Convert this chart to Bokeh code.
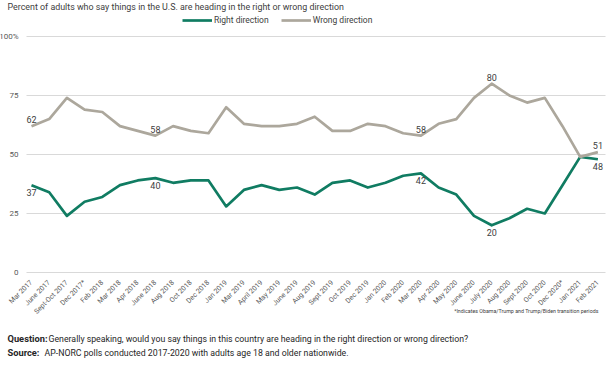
from math import pi
from bokeh.plotting import figure
from bokeh.models import Range1d, Label, Legend, LegendItem, ColumnDataSource, FixedTicker
from bokeh.core.properties import value
from bokeh.embed import file_html
from bokeh.resources import INLINE

months = ["Mar 2017", "June 2017", "Sept-Oct 2017", "Dec 2017*", "Feb 2018", "Mar 2018",
          "Apr 2018", "June 2018", "Aug 2018", "Oct 2018", "Dec 2018", "Jan 2019",
          "Mar 2019", "April 2019", "May 2019", "June 2019", "Aug 2019", "Sept 2019",
          "Oct 2019", "Dec 2019", "Jan 2020", "Feb 2020", "Mar 2020", "Apr 2020",
          "May 2020", "June 2020", "July 2020", "Aug 2020", "Sept 2020", "Oct 2020",
          "Dec 2020*", "Jan 2021", "Feb 2021"]
right_dir = [37, 34, 24, 30, 32, 37, 39, 40, 38, 39, 39, 28, 35, 37, 35, 36, 33, 38,
             39, 36, 38, 41, 42, 36, 33, 24, 20, 23, 27, 25, 37, 49, 48]
wrong_dir = [62, 65, 74, 69, 68, 62, 60, 58, 62, 60, 59, 70, 63, 62, 62, 63, 66, 60,
             60, 63, 62, 59, 58, 63, 65, 74, 80, 75, 72, 74, 62, 49, 51]
label_idx = [0, 7, 22, 26, 32]
y_ticks = [0, 25, 50, 75, 100]

GREEN = "#107c62"
GRAY = "#aca79c"
TXT = "#404040"
FONT = "Roboto"

idx = list(range(len(months)))
src = ColumnDataSource(dict(i=idx, month=months, right=right_dir, wrong=wrong_dir))

W, H = 612, 374
GRID_START, GRID_END = -0.28, 32.43

p = figure(width=W, height=H,
           x_range=Range1d(-1.751, 32.825),
           y_range=Range1d(-43.22, 115.25),
           output_backend="svg", toolbar_location=None,
           min_border_left=0, min_border_right=0,
           min_border_top=0, min_border_bottom=0)
p.outline_line_color = None
p.background_fill_color = "white"
p.border_fill_color = "white"
p.xgrid.grid_line_color = None
p.ygrid.grid_line_color = "#d9d9d9"
p.ygrid.grid_line_width = 1
p.ygrid.ticker = FixedTicker(ticks=y_ticks)
p.ygrid.cross_bounds = (GRID_START, GRID_END)

p.yaxis.fixed_location = GRID_START
p.yaxis.ticker = FixedTicker(ticks=y_ticks)
p.yaxis.major_label_overrides = {100: "100%"}
p.yaxis.axis_line_color = None
p.yaxis.major_tick_line_color = None
p.yaxis.minor_tick_line_color = None
p.yaxis.major_label_standoff = 2
p.yaxis.major_label_text_font = FONT
p.yaxis.major_label_text_font_size = "8px"
p.yaxis.major_label_text_color = "#595959"

p.xaxis.fixed_location = 0
p.xaxis.ticker = FixedTicker(ticks=idx)
p.xaxis.major_label_overrides = {i: m for i, m in zip(idx, months)}
p.xaxis.axis_line_color = None
p.xaxis.major_tick_line_color = None
p.xaxis.minor_tick_line_color = None
p.xaxis.major_label_orientation = pi / 4
p.xaxis.major_label_standoff = 3
p.xaxis.major_label_text_font = FONT
p.xaxis.major_label_text_font_size = "7px"
p.xaxis.major_label_text_color = "#595959"

r_right = p.line(x="i", y="right", source=src, line_color=GREEN, line_width=2.7,
                 line_join="round")
r_wrong = p.line(x="i", y="wrong", source=src, line_color=GRAY, line_width=2.7,
                 line_join="round")

above = ColumnDataSource(dict(x=label_idx,
                              y=[wrong_dir[i] for i in label_idx],
                              t=[str(wrong_dir[i]) for i in label_idx]))
below = ColumnDataSource(dict(x=label_idx,
                              y=[right_dir[i] for i in label_idx],
                              t=[str(right_dir[i]) for i in label_idx]))
p.text(x="x", y="y", text="t", source=above, text_align="center", text_baseline="bottom",
       y_offset=-3, text_font=value(FONT), text_font_size="9px", text_color=TXT)
p.text(x="x", y="y", text="t", source=below, text_align="center", text_baseline="top",
       y_offset=4, text_font=value(FONT), text_font_size="9px", text_color=TXT)

legend = Legend(items=[LegendItem(label="Right direction", renderers=[r_right]),
                       LegendItem(label="Wrong direction", renderers=[r_wrong])],
                orientation="horizontal", location=(182, 349),
                padding=0, margin=0, spacing=12, glyph_width=30, glyph_height=10,
                label_height=10, label_standoff=2,
                label_text_font=FONT, label_text_font_size="8.5px",
                label_text_color=TXT, border_line_color=None,
                background_fill_alpha=0)
p.add_layout(legend, "center")

p.add_layout(Label(x=7, y=373, x_units="screen", y_units="screen",
                   text="Percent of adults who say things in the U.S. are heading in the right or wrong direction",
                   text_font=FONT, text_font_size="8.9px", text_baseline="top",
                   text_color=TXT))

p.add_layout(Label(x=598, y=61, x_units="screen", y_units="screen",
                   text="*Indicates Obama/Trump and Trump/Biden transition periods",
                   text_font=FONT, text_font_size="5.3px", text_align="right",
                   text_color=TXT))

p.add_layout(Label(x=7, y=31, x_units="screen", y_units="screen", text="Question:",
                   text_font=FONT, text_font_size="9.3px", text_font_style="bold",
                   text_color="#262626"))
p.add_layout(Label(x=48, y=31, x_units="screen", y_units="screen",
                   text="Generally speaking, would you say things in this country are heading in the right direction or wrong direction?",
                   text_font=FONT, text_font_size="8.75px", text_color="#262626"))
p.add_layout(Label(x=7, y=17, x_units="screen", y_units="screen", text="Source:",
                   text_font=FONT, text_font_size="9.3px", text_font_style="bold",
                   text_color="#262626"))
p.add_layout(Label(x=44, y=17, x_units="screen", y_units="screen",
                   text="AP-NORC polls conducted 2017-2020 with adults age 18 and older nationwide.",
                   text_font=FONT, text_font_size="8.75px", text_color="#262626"))

open("out.html", "w").write(file_html(p, INLINE))
